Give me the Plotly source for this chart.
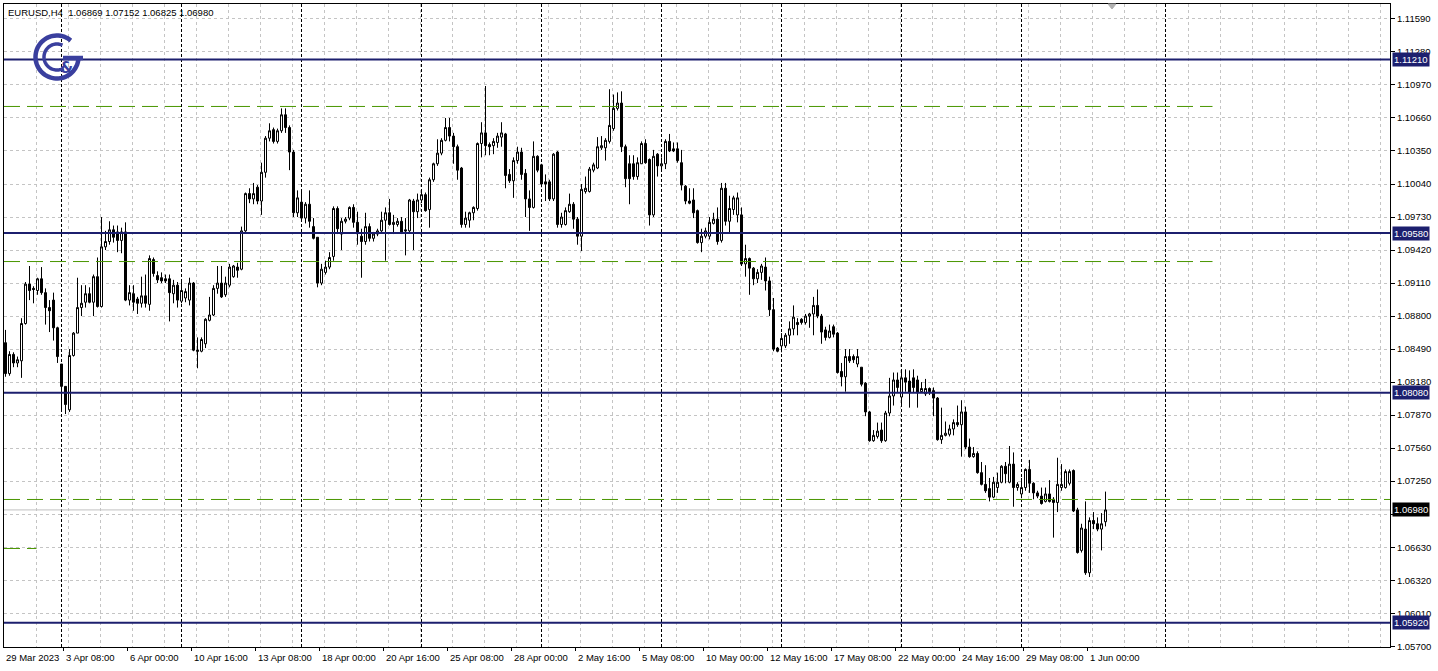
import math
import plotly.graph_objects as go

# ---------------- data (EURUSD H4) ----------------
opens = [1.0855,1.0826,1.0844,1.0836,1.0838,1.0873,1.0910,1.0906,1.0904,1.0915,
         1.0902,1.0888,1.0895,1.0869,1.0835,1.0814,1.0792,1.0843,1.0864,1.0888,
         1.0893,1.0901,1.0893,1.0917,1.0889,1.0945,1.0950,1.0961,1.0959,1.0951,
         1.0959,1.0895,1.0901,1.0896,1.0892,1.0899,1.0891,1.0933,1.0918,1.0916,
         1.0915,1.0915,1.0901,1.0909,1.0894,1.0897,1.0895,1.0911,1.0848,1.0847,
         1.0854,1.0876,1.0881,1.0906,1.0911,1.0900,1.0909,1.0917,1.0926,1.0924,
         1.0960,1.0995,1.0990,1.1001,1.0988,1.1015,1.1047,1.1055,1.1044,1.1054,
         1.1069,1.1057,1.1034,1.0977,1.0987,1.0972,1.0985,1.0964,1.0954,1.0911,
         1.0921,1.0926,1.0936,1.0981,1.0957,1.0969,1.0972,1.0982,1.0968,1.0955,
         1.0950,1.0964,1.0953,1.0957,1.0960,1.0970,1.0977,1.0966,1.0966,1.0969,
         1.0961,1.0960,1.0988,1.0978,1.0989,1.0994,1.0980,1.1008,1.1023,1.1033,
         1.1045,1.1057,1.1049,1.1039,1.1019,1.0966,1.0970,1.0977,1.0981,1.1042,
         1.1052,1.1041,1.1040,1.1043,1.1048,1.1051,1.1013,1.1007,1.1026,1.1034,
         1.1014,1.0990,1.0982,1.1030,1.1022,1.1006,1.1006,1.0990,1.1034,1.0966,
         1.0966,1.0978,1.0985,1.0971,1.0955,1.0997,1.0997,1.1017,1.1019,1.1038,
         1.1038,1.1044,1.1056,1.1075,1.1080,1.1039,1.1023,1.1023,1.1011,1.1023,
         1.1042,1.1027,1.0975,1.1032,1.1021,1.1023,1.1044,1.1037,1.1037,1.1024,
         1.1002,1.0988,1.0989,1.0979,1.0949,1.0955,1.0955,1.0967,1.0971,1.0951,
         1.1000,1.0969,1.0980,1.0975,1.0975,1.0929,1.0934,1.0925,1.0915,1.0921,
         1.0926,1.0913,1.0886,1.0850,1.0852,1.0852,1.0862,1.0868,1.0874,1.0877,
         1.0874,1.0880,1.0882,1.0890,1.0880,1.0867,1.0860,1.0870,1.0864,1.0828,
         1.0823,1.0842,1.0842,1.0835,1.0832,1.0817,1.0790,1.0763,1.0767,1.0773,
         1.0763,1.0789,1.0805,1.0820,1.0804,1.0822,1.0819,1.0822,1.0820,1.0809,
         1.0807,1.0812,1.0810,1.0803,1.0764,1.0768,1.0769,1.0774,1.0780,1.0778,
         1.0790,1.0757,1.0748,1.0751,1.0733,1.0722,1.0718,1.0710,1.0719,1.0724,
         1.0739,1.0724,1.0741,1.0719,1.0713,1.0719,1.0736,1.0723,1.0714,1.0711,
         1.0706,1.0713,1.0708,1.0705,1.0719,1.0719,1.0723,1.0735,1.0698,1.0660,
         1.0680,1.0639,1.0688,1.0685,1.0680,1.06869]
highs = [1.0867,1.0847,1.0846,1.0842,1.0878,1.0912,1.0927,1.0908,1.0916,1.0926,
         1.0906,1.0895,1.0902,1.0870,1.0835,1.0814,1.0849,1.0865,1.0916,1.0909,
         1.0909,1.0907,1.0919,1.0935,1.0973,1.0960,1.0969,1.0965,1.0965,1.0963,
         1.0968,1.0909,1.0909,1.0898,1.0917,1.0919,1.0937,1.0935,1.0922,1.0921,
         1.0919,1.0919,1.0914,1.0912,1.0914,1.0906,1.0916,1.0912,1.0860,1.0860,
         1.0878,1.0898,1.0909,1.0927,1.0927,1.0917,1.0929,1.0928,1.0930,1.0964,
         1.0996,1.1000,1.1005,1.1003,1.1024,1.1049,1.1061,1.1057,1.1056,1.1075,
         1.1075,1.1059,1.1036,1.0998,1.0998,1.0987,1.0998,1.0972,1.0954,1.0929,
         1.0932,1.0940,1.0983,1.0983,1.0972,1.0973,1.0983,1.0985,1.0978,1.0962,
         1.0977,1.0967,1.0959,1.0962,1.0978,1.0982,1.0990,1.0975,1.0972,1.0973,
         1.0972,1.0990,1.0990,1.0995,1.0998,1.0996,1.1010,1.1024,1.1046,1.1047,
         1.1066,1.1066,1.1052,1.1041,1.1020,1.0978,1.0978,1.0983,1.1043,1.1062,
         1.1096,1.1043,1.1047,1.1052,1.1062,1.1052,1.1018,1.1029,1.1039,1.1038,
         1.1018,1.0998,1.1044,1.1031,1.1023,1.1013,1.1008,1.1033,1.1035,1.0977,
         1.0982,1.0995,1.0987,1.0973,1.1004,1.1011,1.1020,1.1024,1.1048,1.1049,
         1.1047,1.1093,1.1088,1.1090,1.1091,1.1041,1.1031,1.1031,1.1029,1.1044,
         1.1046,1.1028,1.1036,1.1033,1.1029,1.1046,1.1051,1.1043,1.1043,1.1036,
         1.1003,1.1000,1.1000,1.0980,1.0962,1.0963,1.0973,1.0977,1.0982,1.1005,
         1.1005,1.0993,1.0993,1.0996,1.0982,1.0947,1.0935,1.0926,1.0924,1.0929,
         1.0935,1.0917,1.0897,1.0851,1.0864,1.0864,1.0875,1.0890,1.0878,1.0878,
         1.0882,1.0883,1.0898,1.0905,1.0882,1.0870,1.0872,1.0872,1.0865,1.0836,
         1.0849,1.0849,1.0844,1.0849,1.0832,1.0818,1.0791,1.0773,1.0780,1.0780,
         1.0791,1.0822,1.0827,1.0827,1.0829,1.0830,1.0829,1.0830,1.0824,1.0818,
         1.0821,1.0813,1.0813,1.0804,1.0794,1.0781,1.0778,1.0783,1.0796,1.0801,
         1.0795,1.0765,1.0757,1.0753,1.0743,1.0740,1.0728,1.0729,1.0733,1.0740,
         1.0743,1.0758,1.0752,1.0724,1.0728,1.0737,1.0745,1.0724,1.0716,1.0719,
         1.0719,1.0726,1.0710,1.0747,1.0741,1.0736,1.0736,1.0736,1.0700,1.0685,
         1.0706,1.0691,1.0696,1.0691,1.0695,1.07152]
lows = [1.0823,1.0824,1.0832,1.0832,1.0822,1.0872,1.0895,1.0892,1.0900,1.0900,
        1.0872,1.0865,1.0857,1.0836,1.0790,1.0788,1.0790,1.0842,1.0864,1.0880,
        1.0888,1.0892,1.0880,1.0888,1.0888,1.0942,1.0947,1.0949,1.0940,1.0939,
        1.0894,1.0890,1.0885,1.0882,1.0888,1.0888,1.0885,1.0917,1.0911,1.0911,
        1.0911,1.0875,1.0892,1.0888,1.0892,1.0893,1.0890,1.0847,1.0831,1.0846,
        1.0850,1.0875,1.0880,1.0901,1.0897,1.0898,1.0907,1.0916,1.0916,1.0923,
        1.0959,1.0986,1.0985,1.0985,1.0975,1.1010,1.1044,1.1042,1.1042,1.1052,
        1.1052,1.1017,1.0973,1.0973,1.0970,1.0967,1.0963,1.0952,1.0907,1.0909,
        1.0919,1.0924,1.0932,1.0957,1.0942,1.0967,1.0970,1.0963,1.0947,1.0916,
        1.0947,1.0950,1.0950,1.0955,1.0959,1.0932,1.0965,1.0957,1.0964,1.0957,
        1.0937,1.0959,1.0942,1.0972,1.0986,1.0978,1.0963,1.1006,1.1021,1.1031,
        1.1044,1.1044,1.1023,1.1008,1.0963,1.0963,1.0963,1.0970,1.0979,1.1029,
        1.1031,1.1031,1.1032,1.1038,1.1039,1.1000,1.1005,1.0991,1.1023,1.1008,
        1.0973,1.0960,1.0981,1.1015,1.1001,1.0988,1.0988,1.0988,1.0963,1.0963,
        1.0965,1.0977,1.0962,1.0947,1.0941,1.0995,1.0996,1.1015,1.1018,1.1036,
        1.1026,1.1042,1.1054,1.1073,1.1034,1.1001,1.0985,1.1008,1.1008,1.1023,
        1.1023,1.0965,1.0973,1.1011,1.1016,1.1018,1.1034,1.1034,1.1024,1.0998,
        1.0985,1.0985,1.0972,1.0948,1.0940,1.0953,1.0952,1.0966,1.0947,1.0949,
        1.0965,1.0958,1.0975,1.0968,1.0927,1.0917,1.0900,1.0909,1.0911,1.0914,
        1.0904,1.0880,1.0847,1.0846,1.0846,1.0850,1.0854,1.0862,1.0862,1.0872,
        1.0872,1.0869,1.0862,1.0878,1.0854,1.0857,1.0859,1.0860,1.0826,1.0814,
        1.0809,1.0836,1.0836,1.0832,1.0814,1.0786,1.0762,1.0762,1.0765,1.0761,
        1.0762,1.0786,1.0796,1.0808,1.0796,1.0809,1.0794,1.0808,1.0794,1.0808,
        1.0805,1.0806,1.0786,1.0763,1.0760,1.0767,1.0767,1.0768,1.0776,1.0748,
        1.0755,1.0747,1.0747,1.0732,1.0721,1.0714,1.0706,1.0709,1.0714,1.0723,
        1.0723,1.0723,1.0701,1.0716,1.0709,1.0716,1.0714,1.0708,1.0709,1.0703,
        1.0705,1.0705,1.0672,1.0696,1.0716,1.0718,1.0721,1.0696,1.0657,1.0658,
        1.0637,1.0635,1.0680,1.0678,1.0660,1.06825]
closes = [1.0826,1.0844,1.0836,1.0839,1.0873,1.0910,1.0904,1.0905,1.0915,1.0902,
          1.0888,1.0885,1.0869,1.0842,1.0814,1.0797,1.0843,1.0864,1.0888,1.0892,
          1.0901,1.0893,1.0917,1.0889,1.0945,1.0950,1.0961,1.0954,1.0951,1.0959,
          1.0895,1.0902,1.0893,1.0892,1.0899,1.0892,1.0934,1.0920,1.0914,1.0913,
          1.0913,1.0902,1.0909,1.0895,1.0904,1.0903,1.0911,1.0848,1.0847,1.0858,
          1.0877,1.0881,1.0906,1.0911,1.0898,1.0911,1.0926,1.0927,1.0923,1.0960,
          1.0995,1.0990,1.0995,1.0988,1.1015,1.1047,1.1054,1.1044,1.1054,1.1069,
          1.1057,1.1034,1.0977,1.0991,1.0972,1.0985,1.0969,1.0953,1.0911,1.0924,
          1.0926,1.0935,1.0981,1.0962,1.0969,1.0971,1.0982,1.0968,1.0958,1.0950,
          1.0964,1.0953,1.0957,1.0960,1.0970,1.0977,1.0966,1.0968,1.0969,1.0959,
          1.0960,1.0989,1.0978,1.0989,1.0994,1.0979,1.1008,1.1023,1.1033,1.1045,
          1.1057,1.1049,1.1039,1.1017,1.0966,1.0972,1.0977,1.0982,1.1042,1.1052,
          1.1040,1.1039,1.1044,1.1049,1.1052,1.1012,1.1007,1.1026,1.1034,1.1013,
          1.0990,1.0982,1.1030,1.1017,1.1004,1.1004,1.0990,1.1032,1.0966,1.0973,
          1.0979,1.0985,1.0971,1.0955,1.0999,1.1000,1.1018,1.1022,1.1039,1.1040,
          1.1045,1.1059,1.1075,1.1080,1.1039,1.1009,1.1009,1.1011,1.1024,1.1042,
          1.1024,1.0975,1.1030,1.1021,1.1023,1.1044,1.1035,1.1035,1.1026,1.1003,
          1.0988,1.0986,1.0977,1.0949,1.0955,1.0960,1.0968,1.0971,1.0950,1.1000,
          1.0969,1.0981,1.0991,1.0991,1.0929,1.0934,1.0925,1.0915,1.0921,1.0927,
          1.0913,1.0886,1.0849,1.0847,1.0859,1.0862,1.0868,1.0879,1.0872,1.0874,
          1.0880,1.0882,1.0890,1.0880,1.0865,1.0860,1.0866,1.0863,1.0827,1.0823,
          1.0842,1.0838,1.0839,1.0842,1.0816,1.0790,1.0763,1.0768,1.0772,1.0763,
          1.0789,1.0805,1.0820,1.0813,1.0822,1.0818,1.0808,1.0813,1.0808,1.0812,
          1.0812,1.0809,1.0803,1.0764,1.0768,1.0770,1.0774,1.0780,1.0778,1.0790,
          1.0757,1.0748,1.0751,1.0733,1.0722,1.0716,1.0710,1.0724,1.0724,1.0739,
          1.0732,1.0741,1.0719,1.0722,1.0719,1.0736,1.0723,1.0714,1.0711,1.0704,
          1.0713,1.0706,1.0705,1.0722,1.0722,1.0734,1.0734,1.0697,1.0658,1.0681,
          1.0639,1.0688,1.0685,1.0680,1.0685,1.06980]
bars = list(range(len(opens)))

symbol = "EURUSD,H4"

time_labels = ["29 Mar 2023", "3 Apr 08:00", "6 Apr 00:00", "10 Apr 16:00",
               "13 Apr 08:00", "18 Apr 00:00", "20 Apr 16:00", "25 Apr 08:00",
               "28 Apr 00:00", "2 May 16:00", "5 May 08:00", "10 May 00:00",
               "12 May 16:00", "17 May 08:00", "22 May 00:00", "24 May 16:00",
               "29 May 08:00", "1 Jun 00:00"]
time_label_bars = [0, 15, 31, 47, 63, 79, 95, 111, 127, 143, 159, 175, 191,
                   207, 223, 239, 255, 271]
week_start_bars = [14, 44, 74, 104, 134, 164, 194, 224, 254, 290]

price_ticks = [1.05700, 1.06010, 1.06320, 1.06630, 1.06940, 1.07250, 1.07560,
               1.07870, 1.08180, 1.08490, 1.08800, 1.09110, 1.09420, 1.09730,
               1.10040, 1.10350, 1.10660, 1.10970, 1.11280, 1.11590]

sr_levels = [1.11210, 1.09580, 1.08080, 1.05920]          # navy horizontal levels
green_levels = [1.10768, 1.09312, 1.07078, 1.06618]       # green dashed levels
green_level_end_bars = [301.75, 301.75, 346.2, 7.75]

current_price = closes[-1]

# ---------------- styling ----------------
NAVY = "#1c1f6e"
GREEN = "#4a9600"
GRID = "#c4c4c4"
FONT = "Liberation Sans, Arial, sans-serif"
FS = 9.5
X_RANGE = [-0.375, 346.125]
Y_RANGE = [1.05693, 1.11730]

fig = go.Figure()
fig.add_trace(go.Candlestick(
    x=bars, open=opens, high=highs, low=lows, close=closes,
    increasing=dict(line=dict(color="black", width=1), fillcolor="white"),
    decreasing=dict(line=dict(color="black", width=1), fillcolor="black"),
    whiskerwidth=0, hoverinfo="skip", showlegend=False,
))

shapes = []
# week separators
for b in week_start_bars:
    shapes.append(dict(type="line", xref="x", yref="paper", x0=b, x1=b, y0=0, y1=1,
                       line=dict(color="black", width=1, dash="3px,2px"), layer="below"))
# current price line
shapes.append(dict(type="line", xref="paper", yref="y", x0=0, x1=1,
                   y0=current_price, y1=current_price,
                   line=dict(color="#c0c0c0", width=1), layer="below"))
# green dashed levels
for lvl, end in zip(green_levels, green_level_end_bars):
    shapes.append(dict(type="line", xref="x", yref="y", x0=X_RANGE[0], x1=end,
                       y0=lvl, y1=lvl,
                       line=dict(color=GREEN, width=1, dash="16px,7px"), layer="above"))
# navy levels
for lvl in sr_levels:
    shapes.append(dict(type="line", xref="paper", yref="y", x0=0, x1=1, y0=lvl, y1=lvl,
                       line=dict(color=NAVY, width=2), layer="above"))

# logo (concentric arcs + bar), pixel-sized around an anchor
LOGO = "#3a3f9e"
lx, ly = (57 - 4) / 1386, (647 - 57) / 643


def arc_path(r, a0, a1, n=60):
    pts = []
    for k in range(n + 1):
        a = math.radians(a0 + (a1 - a0) * k / n)
        pts.append(f"{r * math.cos(a):.2f},{r * math.sin(a):.2f}")
    return "M " + " L ".join(pts)


for r, a0, a1, w in [(21.5, 50, 360, 4.5), (13, 65, 300, 3.5)]:
    shapes.append(dict(type="path", xref="paper", yref="paper", xsizemode="pixel",
                       ysizemode="pixel", xanchor=lx, yanchor=ly,
                       path=arc_path(r, a0, a1), line=dict(color=LOGO, width=w),
                       layer="above"))
shapes.append(dict(type="path", xref="paper", yref="paper", xsizemode="pixel",
                   ysizemode="pixel", xanchor=lx, yanchor=ly,
                   path="M 6,-1 L 26,-1", line=dict(color=LOGO, width=4.5), layer="above"))
# chart-shift marker
shapes.append(dict(type="path", xref="paper", yref="paper", xsizemode="pixel",
                   ysizemode="pixel", xanchor=(1112 - 4) / 1386, yanchor=1,
                   path="M -4,0 L 4,0 L 0,-5 Z", fillcolor="#b0b0b0",
                   line=dict(color="#b0b0b0", width=1), layer="above"))

annotations = []
# header
annotations.append(dict(
    xref="paper", yref="paper", x=0, y=1, xanchor="left", yanchor="top",
    xshift=2, yshift=-1, showarrow=False,
    text=f"{symbol}\u00a0\u00a0{opens[-1]:.5f} {highs[-1]:.5f} {lows[-1]:.5f} {closes[-1]:.5f}",
    font=dict(family=FONT, size=FS, color="black")))
# logo ampersand
annotations.append(dict(xref="paper", yref="paper", x=lx, y=ly, xshift=1, yshift=0,
                        showarrow=False, text="<b>&amp;</b>",
                        font=dict(family="DejaVu Sans", size=15, color=LOGO)))
# time labels
for lab, b in zip(time_labels, time_label_bars):
    annotations.append(dict(xref="x", yref="paper", x=b, y=0, xanchor="left",
                            yanchor="top", xshift=-2, yshift=-3, showarrow=False,
                            text=lab, font=dict(family=FONT, size=FS, color="black")))
# level boxes on the price scale
for lvl in sr_levels:
    annotations.append(dict(xref="paper", yref="y", x=1, y=lvl, xanchor="left",
                            yanchor="middle", xshift=2, showarrow=False,
                            text=f"{lvl:.5f}", bgcolor=NAVY, borderpad=1,
                            font=dict(family=FONT, size=FS, color="white")))
annotations.append(dict(xref="paper", yref="y", x=1, y=current_price, xanchor="left",
                        yanchor="middle", xshift=2, showarrow=False,
                        text=f"{current_price:.5f}", bgcolor="black", borderpad=1,
                        font=dict(family=FONT, size=FS, color="white")))

# the tick label hidden under the current-price box is left blank
tick_text = ["" if abs(v - current_price) < 0.0006 else f"{v:.5f}" for v in price_ticks]

fig.update_layout(
    width=1438, height=671,
    margin=dict(l=4, r=48, t=4, b=24),
    paper_bgcolor="white", plot_bgcolor="white",
    shapes=shapes, annotations=annotations,
    showlegend=False, boxgap=0.5, boxgroupgap=0,
    xaxis=dict(range=X_RANGE, rangeslider=dict(visible=False), showline=True,
               mirror=True, linecolor="black", linewidth=1, zeroline=False,
               tickvals=[b - 0.5 for b in time_label_bars[1:]], showticklabels=False,
               ticks="outside", ticklen=3, tickcolor="black", showgrid=False,
               minor=dict(tickvals=[8 * k - 0.25 for k in range(1, 44)], showgrid=True,
                          gridcolor=GRID, griddash="3px,3px", gridwidth=1, ticklen=0)),
    yaxis=dict(range=Y_RANGE, side="right", tickvals=price_ticks,
               ticktext=tick_text, showline=True, mirror=True,
               linecolor="black", linewidth=1, zeroline=False, ticks="outside",
               ticklen=4, tickcolor="black", showgrid=True, gridcolor=GRID,
               griddash="3px,3px", gridwidth=1,
               tickfont=dict(family=FONT, size=FS, color="black")),
)

fig.write_html("out.html", config={"displayModeBar": False},
               post_script="document.body.style.margin='0';")
